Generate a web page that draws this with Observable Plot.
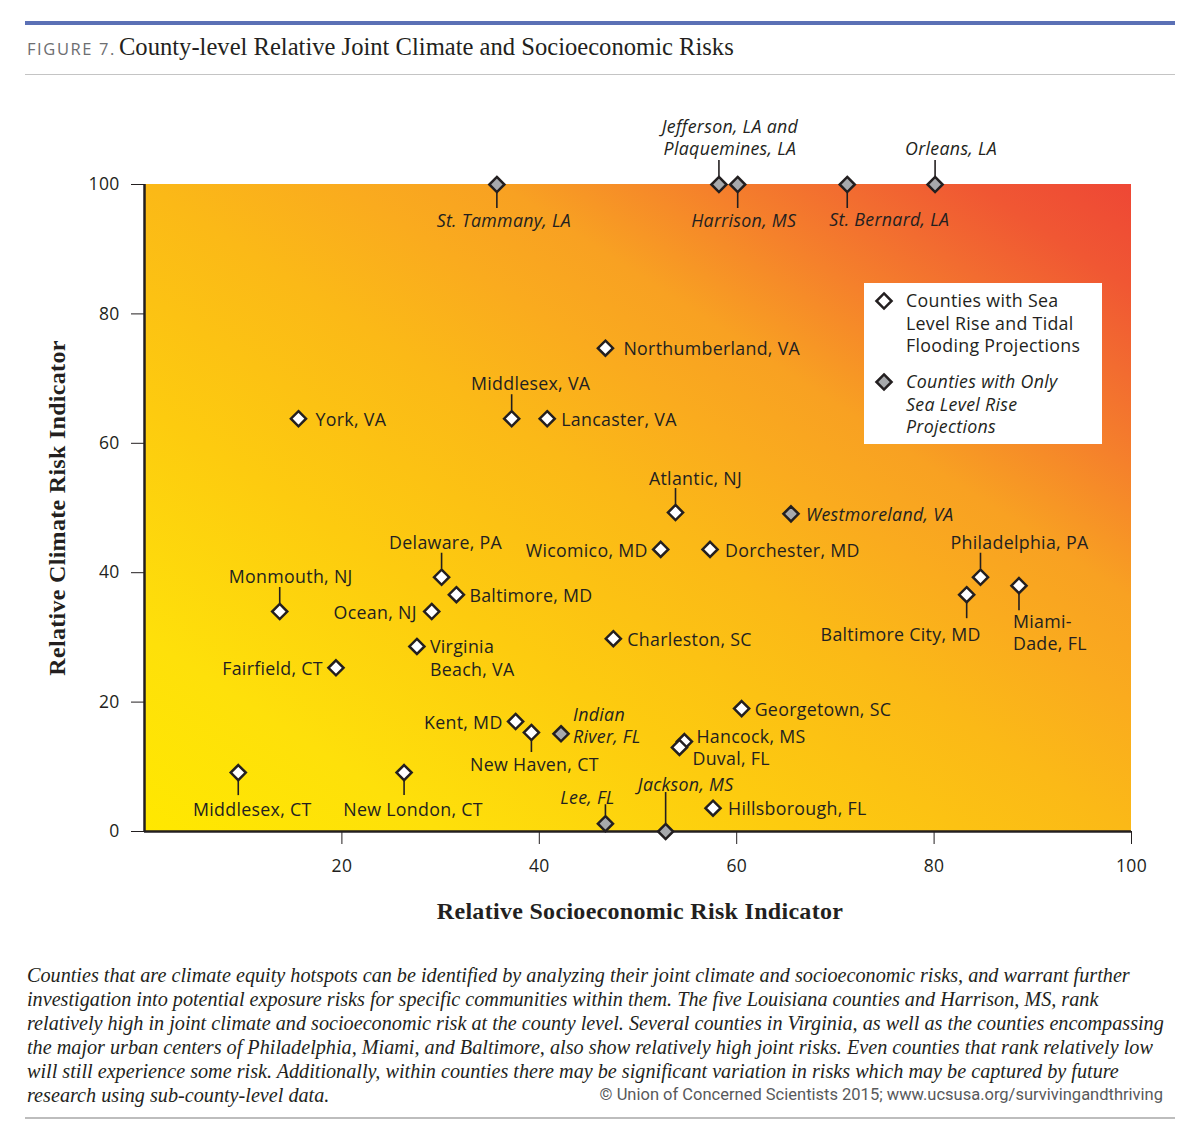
<!DOCTYPE html>
<html>
<head>
<meta charset="utf-8">
<script src="https://cdn.jsdelivr.net/npm/d3@7"></script>
<script src="https://cdn.jsdelivr.net/npm/@observablehq/plot@0.6"></script>
<style>
  html, body { margin: 0; padding: 0; background: #fff; }
  #page { position: relative; width: 1200px; height: 1141px; }
  #header { position: relative; height: 90px; }
  #bluebar { position: absolute; left: 25px; top: 21px; width: 1150px; height: 4px; background: #5b70b5; }
  #title { position: absolute; left: 27px; top: 33px; white-space: nowrap; color: #231f20; }
  #title .fig { font-family: "Open Sans", sans-serif; font-size: 16.5px; letter-spacing: 1.6px; color: #6d6e71; font-weight: 400; }
  #title .main { font-family: "Liberation Serif", serif; font-size: 24.6px; margin-left: -1px; }
  #rule1 { position: absolute; left: 25px; top: 74px; width: 1150px; height: 1px; background: #c4c4c4; }
  #chart svg { display: block; }
  #caption { position: relative; margin-top: 23px; padding-left: 27px; font-family: "Liberation Serif", serif; font-style: italic; font-size: 20.2px; line-height: 24px; color: #231f20; white-space: nowrap; height: 144px; }
  #copy { position: absolute; right: 37px; top: 122px; font-family: "Liberation Sans Narrow", "Roboto", sans-serif; font-style: normal; font-size: 16.5px; color: #58595b; line-height: 20px; }
  #rule2 { position: absolute; left: 25px; top: 1117px; width: 1150px; height: 2px; background: #bdbdbd; }
</style>
</head>
<body>
<div id="page">
  <div id="header">
    <div id="bluebar"></div>
    <div id="title"><span class="fig">FIGURE 7.</span> <span class="main">County-level Relative Joint Climate and Socioeconomic Risks</span></div>
    <div id="rule1"></div>
  </div>
  <div id="chart"></div>
  <div id="caption">Counties that are climate equity hotspots can be identified by analyzing their joint climate and socioeconomic risks, and warrant further<br>investigation into potential exposure risks for specific communities within them. The five Louisiana counties and Harrison, MS, rank<br>relatively high in joint climate and socioeconomic risk at the county level. Several counties in Virginia, as well as the counties encompassing<br>the major urban centers of Philadelphia, Miami, and Baltimore, also show relatively high joint risks. Even counties that rank relatively low<br>will still experience some risk. Additionally, within counties there may be significant variation in risks which may be captured by future<br>research using sub-county-level data.<span id="copy">© Union of Concerned Scientists 2015; www.ucsusa.org/survivingandthriving</span></div>
  <div id="rule2"></div>
</div>
<script>
// ---------------- DATA ----------------
const counties = [
  "St. Tammany, LA", "Jefferson, LA and Plaquemines, LA", "Harrison, MS", "St. Bernard, LA", "Orleans, LA",
  "Northumberland, VA", "Middlesex, VA", "Lancaster, VA", "York, VA", "Atlantic, NJ",
  "Westmoreland, VA", "Wicomico, MD", "Dorchester, MD", "Philadelphia, PA", "Miami-Dade, FL",
  "Baltimore City, MD", "Delaware, PA", "Baltimore, MD", "Ocean, NJ", "Monmouth, NJ",
  "Virginia Beach, VA", "Charleston, SC", "Fairfield, CT", "Georgetown, SC", "Kent, MD",
  "New Haven, CT", "Indian River, FL", "Hancock, MS", "Duval, FL", "Middlesex, CT",
  "New London, CT", "Hillsborough, FL", "Lee, FL", "Jackson, MS"
];
// Relative Socioeconomic Risk Indicator (x)
const socioeconomicRisk = [
  35.7, 58.2, 60.1, 71.2, 80.1,
  46.7, 37.2, 40.8, 15.6, 53.8,
  65.5, 52.3, 57.3, 84.7, 88.6,
  83.3, 30.1, 31.6, 29.1, 13.7,
  27.6, 47.5, 19.4, 60.5, 37.6,
  39.2, 42.2, 54.7, 54.2, 9.5,
  26.3, 57.6, 46.7, 52.8
];
// Relative Climate Risk Indicator (y)
const climateRisk = [
  100, 100, 100, 100, 100,
  74.7, 63.8, 63.8, 63.8, 49.3,
  49.1, 43.6, 43.6, 39.3, 38.0,
  36.6, 39.3, 36.6, 34.0, 34.0,
  28.6, 29.8, 25.3, 19.0, 17.0,
  15.3, 15.1, 13.9, 13.0, 9.1,
  9.1, 3.6, 1.2, 0
];
// true = Counties with Only Sea Level Rise Projections
const onlySeaLevelRise = [
  true, true, true, true, true,
  false, false, false, false, false,
  true, false, false, false, false,
  false, false, false, false, false,
  false, false, false, false, false,
  false, true, false, false, false,
  false, false, true, true
];
const xTicks = [20, 40, 60, 80, 100];
const yTicks = [0, 20, 40, 60, 80, 100];
const legendItems = ["Counties with Sea\nLevel Rise and Tidal\nFlooding Projections", "Counties with Only\nSea Level Rise\nProjections"];

// ---------------- LABEL LAYOUT (pixel offsets from each point) ----------------
const labelText = [
  "St. Tammany, LA", "Jefferson, LA and\nPlaquemines, LA", "Harrison, MS", "St. Bernard, LA", "Orleans, LA",
  "Northumberland, VA", "Middlesex, VA", "Lancaster, VA", "York, VA", "Atlantic, NJ",
  "Westmoreland, VA", "Wicomico, MD", "Dorchester, MD", "Philadelphia, PA", "Miami-\nDade, FL",
  "Baltimore City, MD", "Delaware, PA", "Baltimore, MD", "Ocean, NJ", "Monmouth, NJ",
  "Virginia\nBeach, VA", "Charleston, SC", "Fairfield, CT", "Georgetown, SC", "Kent, MD",
  "New Haven, CT", "Indian\nRiver, FL", "Hancock, MS", "Duval, FL", "Middlesex, CT",
  "New London, CT", "Hillsborough, FL", "Lee, FL", "Jackson, MS"
];
const labelAnchor = [
  "middle", "middle", "middle", "middle", "middle",
  "start", "middle", "start", "start", "middle",
  "start", "end", "start", "middle", "start",
  "middle", "middle", "start", "end", "middle",
  "start", "start", "end", "start", "end",
  "middle", "start", "start", "start", "middle",
  "middle", "start", "middle", "middle"
];
const labelDx = [
  7, 11, 6, 42, 16,
  18, 19, 14, 17, 20,
  15, -13, 15, 39, -6,
  -66, 4, 13, -15, 11,
  13, 14, -13, 13, -13,
  3, 12, 12, 13, 14,
  9, 15, -18, 20
];
const labelDy = [
  35, -47.5, 35, 34, -37,
  0, -36, 0, 0, -35,
  0, 0, 0, -35, 46.5,
  39, -35, 0, 0, -36,
  11, 0, 0, 0, 0,
  31, -9, -6, 10, 36,
  36, 0, -27, -48
];
// leader line [from, to] in pixels (positive = down), null = none
const leaders = [
  [8, 24], [-8, -24], [8, 24], [8, 24], [-8, -24],
  null, [-8, -24], null, null, [-8, -24],
  null, null, null, [-8, -24], [8, 25],
  [8, 24], [-8, -24], null, null, [-8, -24],
  null, null, null, null, null,
  [8, 20], null, null, null, [8, 23],
  [8, 23], null, [-8, -19], [-8, -39]
];

// ---------------- CHART ----------------
const W = 1200, H = 850;
const mL = 144, mR = 69, mT = 94, mB = 109;
const pxX = (W - mL - mR) / 100;
const pxY = (H - mT - mB) / 100;
const ink = "#231f20";
const labelFont = "'Open Sans', sans-serif";
const labelSize = 17.8;

const rows = counties.map((name, i) => ({
  name,
  x: socioeconomicRisk[i],
  y: climateRisk[i],
  only: onlySeaLevelRise[i],
  label: labelText[i],
  anchor: labelAnchor[i],
  dx: labelDx[i],
  dy: labelDy[i],
  leader: leaders[i]
}));

function background(index, scales) {
  const g = d3.create("svg:g");
  const grad = g.append("defs").append("linearGradient")
    .attr("id", "riskGrad")
    .attr("x1", 0).attr("y1", 1).attr("x2", 1).attr("y2", 0);
  [[0, "#ffe800"], [0.15, "#fee00a"], [0.33, "#fdcb0f"], [0.5, "#fbb917"], [0.6, "#faab1e"],
   [0.68, "#f8a122"], [0.78, "#f5812b"], [0.85, "#f26c30"], [0.92, "#f05733"], [1, "#ee4735"]]
    .forEach(([o, c]) => grad.append("stop").attr("offset", o).attr("stop-color", c));
  const x0 = scales.x(0), x1 = scales.x(100), y0 = scales.y(0), y1 = scales.y(100);
  g.append("rect").attr("x", x0).attr("y", y1).attr("width", x1 - x0).attr("height", y0 - y1).attr("fill", "url(#riskGrad)");
  return g.node();
}

function legend() {
  const g = d3.create("svg:g").attr("text-anchor", "start");
  const bx = 864, by = 193, bw = 238, bh = 161;
  g.append("rect").attr("x", bx).attr("y", by).attr("width", bw).attr("height", bh).attr("fill", "#fff");
  const diamond = d3.symbol(d3.symbolDiamond2, 6.8 * 6.8 * Math.PI)();
  const items = [
    {cy: 211, fill: "#fff", italic: false, text: legendItems[0]},
    {cy: 292, fill: "#a7a9ac", italic: true, text: legendItems[1]}
  ];
  for (const it of items) {
    g.append("path").attr("d", diamond).attr("transform", `translate(884,${it.cy})`)
      .attr("fill", it.fill).attr("stroke", ink).attr("stroke-width", 2.5);
    const t = g.append("text")
      .attr("font-family", labelFont).attr("font-size", labelSize).attr("fill", ink)
      .attr("text-anchor", "start")
      .attr("font-style", it.italic ? "italic" : "normal");
    it.text.split("\n").forEach((line, k) => {
      t.append("tspan").attr("x", 906).attr("y", it.cy + k * 22.3).attr("dy", "0.35em").text(line);
    });
  }
  return g.node();
}

const textMarks = [];
for (const anchor of ["start", "middle", "end"]) {
  for (const italic of [false, true]) {
    textMarks.push(Plot.text(rows, {
      filter: d => d.anchor === anchor && d.only === italic,
      x: d => d.x + d.dx / pxX,
      y: d => d.y - d.dy / pxY,
      text: "label",
      textAnchor: anchor,
      lineAnchor: "middle",
      lineHeight: 1.25,
      fontSize: labelSize,
      fontFamily: labelFont,
      fontStyle: italic ? "italic" : "normal",
      fill: ink
    }));
  }
}

const chart = Plot.plot({
  width: W,
  height: H,
  marginLeft: mL,
  marginRight: mR,
  marginTop: mT,
  marginBottom: mB,
  style: {fontFamily: labelFont, fontSize: "17.5px", color: ink, background: "transparent", overflow: "visible", letterSpacing: "0.3px"},
  x: {domain: [0, 100], ticks: xTicks, tickSize: 13, tickPadding: 15, label: null},
  y: {domain: [0, 100], ticks: yTicks, tickSize: 13, tickPadding: 12, label: null},
  marks: [
    background,
    Plot.ruleX(rows.filter(d => d.leader), {
      x: "x",
      y1: d => d.y - d.leader[0] / pxY,
      y2: d => d.y - d.leader[1] / pxY,
      stroke: ink,
      strokeWidth: 1.6
    }),
    Plot.ruleX([0], {stroke: ink, strokeWidth: 2.5}),
    Plot.ruleY([0], {stroke: ink, strokeWidth: 2.5}),
    Plot.dot(rows, {
      x: "x", y: "y",
      symbol: "diamond2", r: 6.8,
      fill: d => d.only ? "#a7a9ac" : "#ffffff",
      stroke: ink, strokeWidth: 2.5
    }),
    ...textMarks,
    legend,
    Plot.text(["Relative Climate Risk Indicator"], {
      frameAnchor: "left", dx: -87, rotate: -90, textAnchor: "middle", lineAnchor: "middle",
      fontFamily: "'Liberation Serif', serif", fontWeight: "bold", fontSize: 24, fill: ink
    }),
    Plot.text(["Relative Socioeconomic Risk Indicator"], {
      frameAnchor: "bottom", dy: 80, dx: 2, textAnchor: "middle", lineAnchor: "middle",
      fontFamily: "'Liberation Serif', serif", fontWeight: "bold", fontSize: 24, fill: ink
    })
  ],
  color: {type: "identity"}
});
document.getElementById("chart").appendChild(chart);
</script>
</body>
</html>
